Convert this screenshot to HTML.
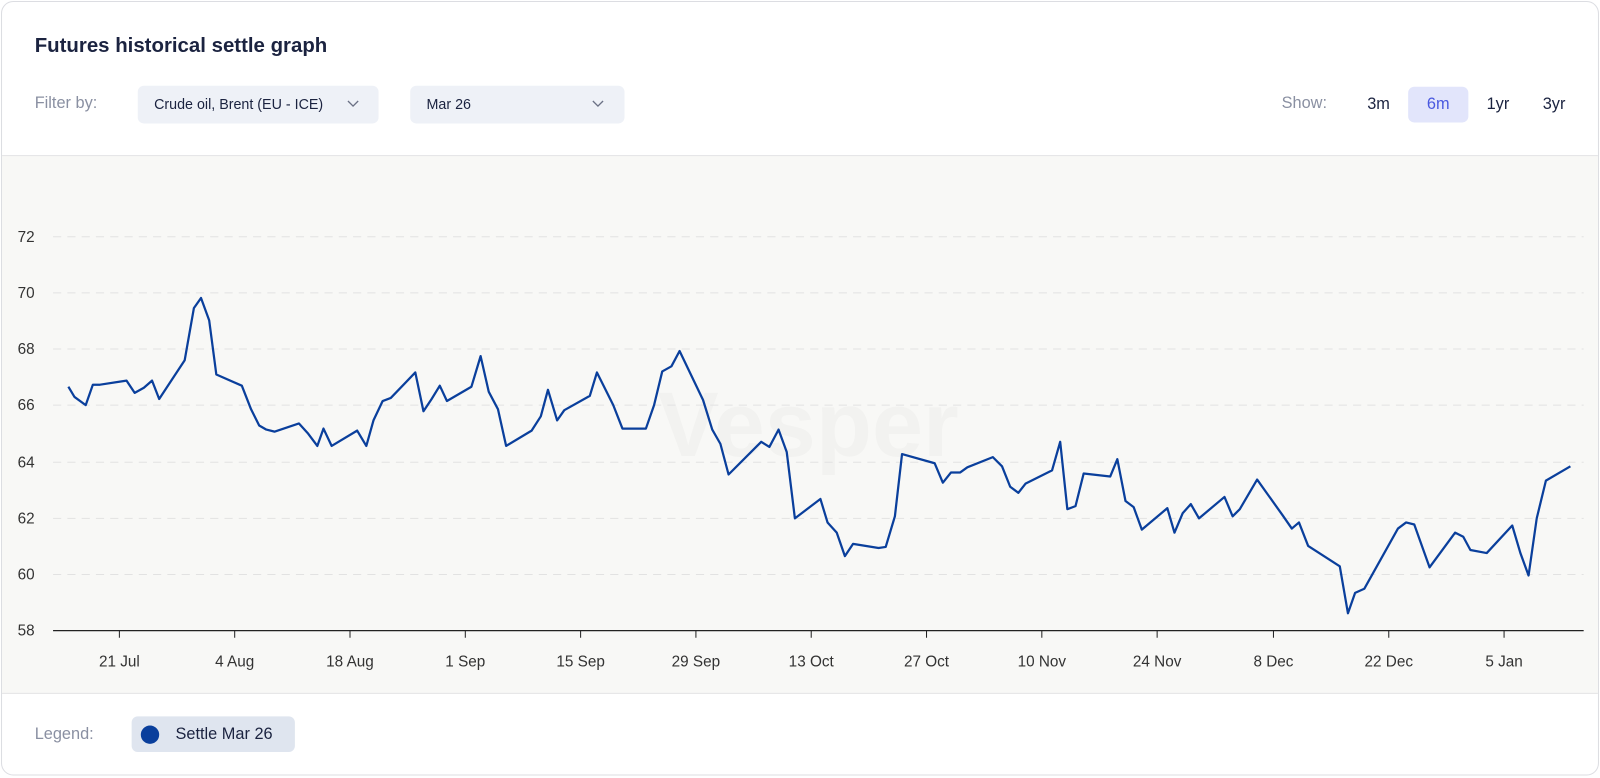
<!DOCTYPE html>
<html><head><meta charset="utf-8"><style>
body{margin:0;background:#fff;font-family:"Liberation Sans",Arial,sans-serif;overflow:hidden}
.wrap{position:absolute;left:0;top:0;width:1568px;height:762px;transform:scale(1.0204);transform-origin:0 0}
.card{position:absolute;left:1px;top:1px;width:1564px;height:757px;border:1px solid #dcdde2;border-radius:12px;overflow:hidden;background:#fff}
.t{position:absolute;left:32px;top:32px;font-size:20px;font-weight:bold;color:#1b2340}
.lab{position:absolute;font-size:16px;color:#8a90a2}
.dd{position:absolute;top:82px;height:37px;background:#eef1f7;border-radius:6px;font-size:14px;color:#1b2340;line-height:37px;padding-left:16px;box-sizing:border-box}
.dd svg{position:absolute;top:14px}
.sb{position:absolute;top:83px;height:35px;line-height:35px;font-size:16px;color:#1b2340;text-align:center;border-radius:6px}
.chart{position:absolute;left:0;top:150px;width:1564px;height:526px;background:#f8f8f6;border-top:1px solid #e4e4e6;border-bottom:1px solid #e4e4e6}
</style></head><body>
<div class="wrap">
<div class="card">
<div class="t">Futures historical settle graph</div>
<div class="lab" style="left:32px;top:91px">Filter by:</div>
<div class="dd" style="left:133px;width:236px">Crude oil, Brent (EU - ICE)<svg style="left:205px" width="12" height="8"><path d="M1 1l5 5 5-5" fill="none" stroke="#6b7185" stroke-width="1.3"/></svg></div>
<div class="dd" style="left:400px;width:210px">Mar 26<svg style="left:178px" width="12" height="8"><path d="M1 1l5 5 5-5" fill="none" stroke="#6b7185" stroke-width="1.3"/></svg></div>
<div class="lab" style="left:1254px;top:91px">Show:</div>
<div class="sb" style="left:1328px;width:42px">3m</div>
<div class="sb" style="left:1378px;width:59px;background:#e2e5fb;color:#4a59e0">6m</div>
<div class="sb" style="left:1445px;width:42px">1yr</div>
<div class="sb" style="left:1500px;width:42px">3yr</div>
<div class="chart"></div>
<svg style="position:absolute;left:0;top:0" width="1564" height="757">
<text x="790" y="445" font-size="90" font-weight="bold" fill="#000" fill-opacity="0.025" text-anchor="middle">Vesper</text>
<g stroke="#e2e2e2" stroke-dasharray="8,6" stroke-width="1">
<line x1="50" x2="1550" y1="230" y2="230"/><line x1="50" x2="1550" y1="285" y2="285"/><line x1="50" x2="1550" y1="340" y2="340"/><line x1="50" x2="1550" y1="395" y2="395"/><line x1="50" x2="1550" y1="451" y2="451"/><line x1="50" x2="1550" y1="506" y2="506"/><line x1="50" x2="1550" y1="561" y2="561"/>
</g>
<line x1="50" x2="1550" y1="616" y2="616" stroke="#222" stroke-width="1.2"/>
<g font-size="15" fill="#333" text-anchor="end">
<text x="32" y="235">72</text><text x="32" y="290">70</text><text x="32" y="345">68</text><text x="32" y="400">66</text><text x="32" y="456">64</text><text x="32" y="511">62</text><text x="32" y="566">60</text><text x="32" y="621">58</text>
</g>
<g stroke="#222"><line x1="115" x2="115" y1="616" y2="623"/><line x1="228" x2="228" y1="616" y2="623"/><line x1="341" x2="341" y1="616" y2="623"/><line x1="454" x2="454" y1="616" y2="623"/><line x1="567" x2="567" y1="616" y2="623"/><line x1="680" x2="680" y1="616" y2="623"/><line x1="793" x2="793" y1="616" y2="623"/><line x1="906" x2="906" y1="616" y2="623"/><line x1="1019" x2="1019" y1="616" y2="623"/><line x1="1132" x2="1132" y1="616" y2="623"/><line x1="1246" x2="1246" y1="616" y2="623"/><line x1="1359" x2="1359" y1="616" y2="623"/><line x1="1472" x2="1472" y1="616" y2="623"/></g>
<g font-size="15" fill="#333" text-anchor="middle">
<text x="115" y="651">21 Jul</text><text x="228" y="651">4 Aug</text><text x="341" y="651">18 Aug</text><text x="454" y="651">1 Sep</text><text x="567" y="651">15 Sep</text><text x="680" y="651">29 Sep</text><text x="793" y="651">13 Oct</text><text x="906" y="651">27 Oct</text><text x="1019" y="651">10 Nov</text><text x="1132" y="651">24 Nov</text><text x="1246" y="651">8 Dec</text><text x="1359" y="651">22 Dec</text><text x="1472" y="651">5 Jan</text>
</g>
<polyline fill="none" stroke="#0a3f9c" stroke-width="2.2" stroke-linejoin="round" points="65,377 71,387 82,395 89,375 96,375 122,371 130,383 139,378 147,371 154,389 179,351 188,300 195,290 203,312 210,365 235,376 244,399 252,415 259,419 267,421 291,413 300,423 309,435 315,418 323,435 348,420 357,435 364,410 373,391 381,388 405,363 413,401 421,389 429,376 436,391 460,377 469,347 477,382 486,399 494,435 519,420 528,406 535,380 544,410 551,400 576,386 583,363 599,395 608,418 631,418 639,395 647,362 656,357 664,342 687,390 696,419 704,433 712,463 744,431 752,436 761,419 769,441 777,506 802,487 809,510 818,520 826,543 834,531 859,535 866,534 875,504 882,443 914,452 922,471 930,461 939,461 946,456 971,446 980,455 988,475 996,481 1003,472 1029,459 1037,431 1044,497 1052,494 1060,462 1086,465 1093,448 1101,489 1109,495 1117,517 1142,496 1149,520 1157,501 1165,492 1173,506 1198,485 1206,504 1213,497 1230,468 1255,503 1264,516 1271,510 1280,533 1311,553 1319,599 1326,579 1335,575 1368,516 1376,510 1384,512 1399,554 1424,520 1432,524 1439,537 1455,540 1480,513 1488,540 1496,562 1504,506 1513,469 1537,455"/>
</svg>
<div class="lab" style="left:32px;top:709px">Legend:</div>
<div style="position:absolute;left:127px;top:700px;width:160px;height:35px;background:#dfe5ef;border-radius:6px;font-size:16px;color:#1b2340;line-height:35px">
<span style="position:absolute;left:9px;top:9px;width:18px;height:18px;border-radius:50%;background:#0a3f9c"></span>
<span style="position:absolute;left:43px">Settle Mar 26</span></div>
</div>
</div>
</body></html>
